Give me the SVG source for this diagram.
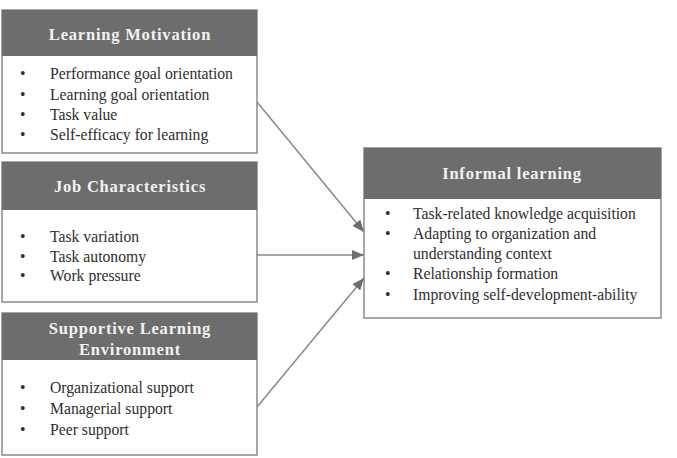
<svg xmlns="http://www.w3.org/2000/svg" width="677" height="458" viewBox="0 0 677 458">
<defs>
<style>
.box{fill:#fff;stroke:#8a8a8a;stroke-width:1.5}
.hdr{fill:#6d6d6d}
.ht{font-family:"Liberation Serif","Times New Roman",serif;font-weight:bold;font-size:16.5px;fill:#f2f2f2;text-anchor:middle;letter-spacing:0.8px}
.bt{font-family:"Liberation Serif","Times New Roman",serif;font-size:15.7px;fill:#2e2e2e}
.cn{stroke:#8a8a8a;stroke-width:1.5;fill:none}
</style>
<marker id="ah" viewBox="0 0 12 10" refX="12" refY="5" markerWidth="12" markerHeight="10" markerUnits="userSpaceOnUse" orient="auto"><path d="M0,0L12,5L0,10z" fill="#6d6d6d"/></marker>
</defs>
<rect width="677" height="458" fill="#fff"/>
<g id="learning-motivation">
<rect class="box" x="2" y="10" width="255" height="143"/>
<rect class="hdr" x="2" y="10" width="255" height="46"/>
<text class="ht" x="130" y="40">Learning Motivation</text>
<text class="bt"><tspan x="20" y="79">•</tspan><tspan x="50" y="79">Performance goal orientation</tspan><tspan x="20" y="100">•</tspan><tspan x="50" y="100">Learning goal orientation</tspan><tspan x="20" y="120">•</tspan><tspan x="50" y="120">Task value</tspan><tspan x="20" y="140">•</tspan><tspan x="50" y="140">Self-efficacy for learning</tspan></text>
</g>
<g id="job-characteristics">
<rect class="box" x="2" y="162" width="255" height="140"/>
<rect class="hdr" x="2" y="162" width="255" height="48"/>
<text class="ht" x="130" y="192">Job Characteristics</text>
<text class="bt"><tspan x="20" y="242">•</tspan><tspan x="50" y="242">Task variation</tspan><tspan x="20" y="262">•</tspan><tspan x="50" y="262">Task autonomy</tspan><tspan x="20" y="281">•</tspan><tspan x="50" y="281">Work pressure</tspan></text>
</g>
<g id="supportive-learning-environment">
<rect class="box" x="2" y="313" width="255" height="142"/>
<rect class="hdr" x="2" y="313" width="255" height="47"/>
<text class="ht" x="130" y="334">Supportive Learning</text>
<text class="ht" x="130" y="355">Environment</text>
<text class="bt"><tspan x="20" y="393">•</tspan><tspan x="50" y="393">Organizational support</tspan><tspan x="20" y="414">•</tspan><tspan x="50" y="414">Managerial support</tspan><tspan x="20" y="435">•</tspan><tspan x="50" y="435">Peer support</tspan></text>
</g>
<g id="informal-learning">
<rect class="box" x="364" y="148" width="297" height="170"/>
<rect class="hdr" x="364" y="148" width="297" height="51"/>
<text class="ht" x="512" y="179">Informal learning</text>
<text class="bt"><tspan x="385" y="219">•</tspan><tspan x="413" y="219">Task-related knowledge acquisition</tspan><tspan x="385" y="239">•</tspan><tspan x="413" y="239">Adapting to organization and</tspan><tspan x="413" y="259">understanding context</tspan><tspan x="385" y="279">•</tspan><tspan x="413" y="279">Relationship formation</tspan><tspan x="385" y="300">•</tspan><tspan x="413" y="300">Improving self-development-ability</tspan></text>
</g>
<g id="connectors">
<line class="cn" x1="257" y1="102" x2="364" y2="232" marker-end="url(#ah)"/>
<line class="cn" x1="257" y1="255" x2="364" y2="255" marker-end="url(#ah)"/>
<line class="cn" x1="257" y1="407" x2="364" y2="278" marker-end="url(#ah)"/>
</g>
</svg>
